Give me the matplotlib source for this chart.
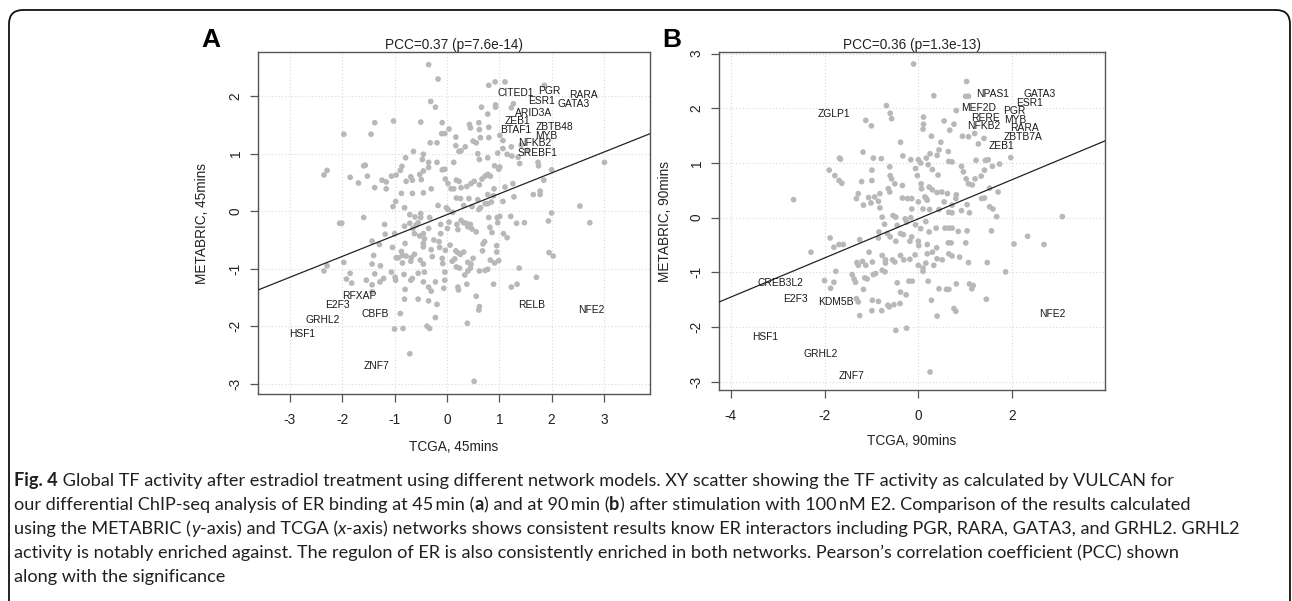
import matplotlib
matplotlib.use("Agg")
import matplotlib.pyplot as plt
from matplotlib.patches import FancyBboxPatch
from matplotlib.transforms import IdentityTransform
from matplotlib import font_manager

plt.rcParams["axes.unicode_minus"] = False

# ---------------- data ----------------
a_x = [-0.35,-0.17,0.80,0.92,1.11,1.86,
 -0.31,-0.22,0.93,0.93,1.27,1.23,0.78,0.66,
 -1.38,-1.02,-0.50,-0.09,-1.97,-1.45,-0.32,-0.19,
 -0.10,-0.04,0.04,0.43,0.45,0.61,0.62,0.80,
 0.50,0.56,0.64,0.80,1.01,1.07,0.17,0.17,
 0.23,0.27,0.35,0.59,0.62,0.78,0.97,1.07,
 1.15,1.24,1.36,1.39,1.54,1.74,1.75,2.00,3.01,
 -0.64,-0.79,-0.45,-0.47,-0.35,-0.35,-0.19,-0.09,-0.04,0.13,
 -0.86,-0.89,-0.97,-1.16,-1.16,-1.24,-1.59,-1.56,-1.52,-1.69,-1.85,
 -2.29,-2.35,-1.38,-1.06,-0.78,-0.69,-0.66,-0.49,-0.45,-0.52,
 -0.30,-0.45,-0.66,-0.87,-0.98,-1.03,-0.81,
 -0.03,0.02,0.08,0.13,0.18,0.23,0.27,0.38,0.18,0.26,
 0.46,0.52,0.62,0.67,0.73,0.78,0.83,0.91,0.99,1.01,
 1.11,1.26,0.78,0.89,1.07,1.28,1.65,1.78,1.78,1.85,
 2.54,2.73,2.00,1.94,
 -0.01,0.02,0.11,0.32,0.48,0.61,0.73,0.78,0.85,0.59,
 0.80,0.96,1.01,0.97,1.22,1.33,1.48,0.82,0.86,1.08,1.15,
 0.72,0.69,0.68,0.95,0.95,0.83,0.91,0.99,1.95,2.03,
 1.38,1.71,1.23,1.34,0.73,0.78,0.62,0.46,0.45,0.40,
 0.38,0.56,0.62,0.61,0.39,0.52,0.21,0.22,0.34,
 0.10,0.15,0.21,0.26,0.32,0.17,0.40,0.50,0.18,0.24,
 0.27,0.32,0.37,0.40,0.45,0.48,0.56,0.19,0.21,0.04,0.01,
 -0.12,-0.12,-0.15,-0.25,-0.30,-0.28,-0.14,0.06,-0.03,-0.09,
 -0.33,-0.35,-0.50,-0.50,-0.55,-0.59,-0.65,-0.62,-0.52,-0.45,-0.43,-0.45,-0.45,
 -0.81,-0.71,-1.19,-1.59,-2.05,-2.01,-1.18,-1.00,-0.80,-1.29,-1.43,
 -1.04,-0.87,-0.85,-0.97,-0.93,-0.78,-0.68,-0.69,-0.62,-0.51,-0.45,-0.85,
 -1.40,-1.43,-1.27,-1.06,-1.21,-1.28,-1.43,-1.54,-1.38,-1.82,-1.85,-1.92,-1.97,
 -2.29,-2.35,-0.99,-0.98,-0.82,-0.66,-0.69,-0.55,-0.43,-0.45,-0.35,-0.30,
 -0.80,-0.81,-0.55,-0.35,-0.19,-0.22,-0.04,-0.04,-0.06,-0.22,-0.08,
 0.89,-0.89,-1.00,-0.84,-0.38,-0.33,-0.71,-1.43,
 -0.17,-0.61,-0.71,0.42,0.64,0.90,1.23,1.42]
a_y = [2.55,2.30,2.19,2.25,2.25,2.19,
 1.91,1.81,1.85,1.81,1.87,1.80,1.69,1.81,
 1.54,1.57,1.55,1.54,1.34,1.34,1.19,1.19,
 1.35,1.35,1.43,1.51,1.45,1.54,1.42,1.46,
 1.22,1.19,1.28,1.28,1.32,1.23,1.29,1.14,
 1.04,1.05,1.12,1.00,0.90,0.93,1.01,1.09,
 0.99,0.96,0.94,0.83,1.06,0.85,0.79,0.72,0.85,
 1.04,0.93,0.99,0.90,0.85,0.76,0.85,0.72,0.73,0.85,
 0.78,0.71,0.63,0.51,0.39,0.54,0.79,0.80,0.61,0.49,0.59,
 0.71,0.63,0.41,0.61,0.52,0.60,0.54,0.55,0.70,0.64,
 0.39,0.32,0.31,0.31,0.17,0.08,0.06,
 0.56,0.48,0.39,0.39,0.54,0.52,0.41,0.43,0.23,0.22,
 0.48,0.52,0.46,0.56,0.61,0.64,0.61,0.79,0.73,0.77,
 0.42,0.48,0.29,0.27,0.17,0.25,0.29,0.35,0.29,0.54,
 0.09,-0.20,-0.03,-0.17,
 0.06,0.03,-0.02,0.10,0.08,0.03,0.13,0.13,0.16,0.20,
 -0.11,-0.11,-0.09,-0.20,-0.09,-0.21,-0.20,-0.28,-0.37,-0.39,-0.46,
 -0.53,-0.57,-0.69,-0.60,-0.71,-0.85,-0.90,-0.86,-0.72,-0.78,
 -0.99,-1.15,-1.32,-1.27,-1.03,-1.01,-1.04,-0.92,-0.99,-1.04,
 -1.27,-1.48,-1.66,-1.72,-1.95,-2.96,-1.32,-1.37,-1.11,
 -0.87,-0.83,-0.72,-0.75,-0.71,-0.69,-0.89,-0.82,-0.97,-0.99,
 -0.16,-0.20,-0.21,-0.27,-0.23,-0.31,-0.36,-0.23,-0.32,-0.19,-0.30,
 -0.23,-0.39,-0.53,-0.50,-0.67,-0.79,-0.63,-0.59,-0.68,-0.82,
 -0.11,-0.30,-0.04,-0.11,-0.20,-0.24,-0.30,-0.39,-0.43,-0.39,-0.48,-0.56,-0.62,
 -0.26,-0.21,-0.23,-0.11,-0.21,-0.21,-0.40,-0.39,-0.56,-0.58,-0.52,
 -0.63,-0.70,-0.77,-0.81,-0.81,-0.78,-0.81,-0.87,-0.75,-0.85,-0.92,-0.90,
 -0.77,-0.92,-0.95,-1.06,-1.17,-1.23,-1.28,-1.20,-1.09,-1.25,-1.08,-1.18,-0.89,
 -0.95,-1.04,-1.15,-1.20,-1.10,-1.17,-1.20,-1.08,-1.06,-1.23,-1.32,-1.39,
 -1.36,-1.53,-1.53,-1.56,-1.62,-1.85,-1.06,-1.20,-1.34,-1.23,-0.91,
 -1.27,-1.78,-2.05,-2.04,-2.00,-2.04,-2.48,-1.40,
 0.10,-0.10,-0.06,0.22,0.06,0.39,1.12,1.15]

b_x = [-0.10,1.03,1.01,1.07,0.33,-0.68,-0.60,-0.57,-1.12,-1.00,
 0.11,0.11,0.10,0.55,0.76,0.67,0.81,0.94,1.07,1.20,1.28,1.40,
 0.28,0.48,0.64,0.44,0.40,0.25,0.21,-0.38,-1.18,-1.68,-1.66,
 -0.96,-0.79,-0.33,-0.16,0.00,0.05,0.17,0.30,0.42,0.65,0.72,
 0.92,0.96,1.02,1.07,1.21,1.15,1.23,1.43,1.49,1.58,1.73,1.97,
 1.41,1.34,1.52,1.70,1.35,1.41,1.52,1.59,1.67,1.56,
 3.07,2.33,2.68,2.04,1.86,1.47,1.45,
 -1.90,-1.78,-1.69,-1.63,-2.66,-1.21,-0.99,-0.99,-0.61,-0.60,-0.57,
 -0.50,-0.64,-0.61,-0.82,-0.93,-0.85,-1.06,-1.01,-1.17,-1.28,-1.32,
 -0.82,-0.77,-0.54,-0.48,-0.34,-0.34,-0.23,-0.14,-0.14,-0.06,-0.02,
 0.06,0.07,0.14,0.17,0.19,0.23,0.30,0.00,0.10,0.24,
 0.40,0.50,0.62,0.81,0.80,0.72,0.55,0.44,0.65,0.72,0.92,1.04,1.09,
 -0.28,-0.25,-0.16,-0.06,0.16,0.05,0.23,0.38,0.57,0.65,0.72,0.85,1.04,
 0.64,0.70,1.01,0.65,0.72,0.51,0.88,1.07,
 -0.72,-0.84,-0.85,-0.66,-0.60,-0.45,-0.38,-0.32,-0.48,-0.14,-0.18,
 0.00,0.01,-0.07,0.19,0.19,0.30,0.39,0.40,0.33,0.16,
 -0.18,-0.31,-0.38,-0.50,-0.55,-0.70,-0.70,-0.77,-0.98,-1.12,-1.19,-1.31,-1.28,
 -1.80,-1.69,-1.60,-1.88,-1.25,-1.05,-2.29,-1.76,-2.00,-1.80,-1.87,
 -1.41,-1.37,-1.34,-1.14,-1.09,-0.96,-0.91,-0.77,-0.71,
 -1.32,-1.28,-1.25,-1.17,-0.98,-0.85,-0.99,-0.78,-0.65,-0.62,-0.52,-0.39,
 -0.45,-0.38,-0.20,-0.13,-0.26,-0.48,-0.25,
 0.10,0.10,0.28,0.40,0.44,0.60,0.65,0.81,0.76,0.80,
 1.09,1.14,1.17,0.25,0.21,0.00]
b_y = [2.81,2.49,2.22,2.22,2.23,2.05,1.91,1.81,1.78,1.68,
 1.84,1.71,1.62,1.77,1.71,1.60,1.96,1.49,1.48,1.54,1.35,1.45,
 1.49,1.38,1.21,1.24,1.14,1.17,0.97,1.38,1.20,1.09,1.07,
 1.09,1.08,1.13,1.06,1.06,1.00,1.09,0.88,0.78,1.03,1.02,
 0.94,0.84,0.71,0.62,0.71,0.60,1.05,1.05,1.06,0.94,0.98,1.10,
 0.87,0.76,0.54,0.47,0.35,0.36,0.20,0.16,0.02,-0.24,
 0.02,-0.34,-0.49,-0.48,-0.99,-0.82,-1.49,
 0.87,0.77,0.68,0.63,0.33,0.66,0.87,0.68,0.93,0.77,0.71,
 0.62,0.53,0.47,0.44,0.38,0.30,0.37,0.27,0.23,0.44,0.35,
 0.18,0.01,0.04,0.01,0.59,0.36,0.35,0.35,0.16,0.90,0.77,
 0.62,0.53,0.38,0.35,0.32,0.56,0.51,0.29,0.16,0.15,
 0.46,0.47,0.44,0.42,0.35,0.23,0.29,0.15,0.10,0.09,0.13,0.24,0.09,
 -0.02,-0.08,0.00,-0.13,-0.07,-0.20,-0.26,-0.19,-0.19,-0.19,-0.19,-0.25,-0.24,
 -0.46,-0.46,-0.46,-0.66,-0.70,-0.77,-0.72,-0.82,
 -0.12,-0.26,-0.37,-0.29,-0.35,-0.14,-0.29,-0.31,-0.43,-0.35,-0.43,
 -0.43,-0.51,-0.68,-0.49,-0.66,-0.63,-0.55,-0.75,-0.87,-0.83,
 -0.76,-0.77,-0.69,-0.81,-0.77,-0.77,-0.83,-0.69,-0.81,-0.87,-0.80,-0.82,-0.87,
 -0.54,-0.49,-0.49,-0.37,-0.40,-0.63,-0.63,-0.98,-1.15,-1.18,-1.29,
 -1.04,-1.12,-1.18,-1.10,-1.12,-1.04,-1.02,-0.96,-0.99,
 -1.48,-1.54,-1.79,-1.31,-1.51,-1.53,-1.70,-1.70,-1.60,-1.63,-1.59,-1.57,
 -1.19,-1.36,-1.16,-1.16,-1.41,-2.06,-2.02,
 -0.92,-0.98,-1.51,-1.80,-1.30,-1.31,-1.31,-1.21,-1.66,-1.71,
 -1.21,-1.30,-1.24,-2.82,-1.16,-0.87]

a_labels = ["CITED1","PGR","RARA","ESR1","GATA3","ARID3A","ZEB1","ZBTB48","BTAF1","MYB",
            "NFKB2","SREBF1","RFXAP","E2F3","CBFB","GRHL2","HSF1","ZNF7","RELB","NFE2"]
a_label_x = [1.31,1.95,2.60,1.80,2.43,1.65,1.34,2.06,1.31,1.89,
             1.68,1.73,-1.67,-2.10,-1.38,-2.37,-2.77,-1.35,1.62,2.76]
a_label_y = [2.06,2.10,2.03,1.92,1.87,1.71,1.57,1.46,1.41,1.31,
             1.18,1.02,-1.47,-1.63,-1.79,-1.90,-2.14,-2.70,-1.63,-1.72]

b_labels = ["NPAS1","GATA3","ESR1","MEF2D","PGR","RERE","MYB","NFKB2","RARA","ZBTB7A","ZEB1",
            "ZGLP1","CREB3L2","E2F3","KDM5B","NFE2","HSF1","GRHL2","ZNF7"]
b_label_x = [1.58,2.59,2.36,1.28,2.04,1.43,2.06,1.40,2.27,2.23,1.78,
             -1.80,-2.95,-2.61,-1.76,2.86,-3.27,-2.08,-1.42]
b_label_y = [2.27,2.27,2.10,2.01,1.96,1.82,1.78,1.68,1.64,1.48,1.31,
             1.90,-1.20,-1.48,-1.54,-1.76,-2.18,-2.50,-2.90]

a_fit = [0.363, -0.06]   # slope, intercept
b_fit = [0.358, -0.02]
a_title = "PCC=0.37 (p=7.6e-14)"
b_title = "PCC=0.36 (p=1.3e-13)"
a_xticks = [-3, -2, -1, 0, 1, 2, 3]
a_yticks = [-3, -2, -1, 0, 1, 2]
b_xticks = [-4, -2, 0, 2]
b_yticks = [-3, -2, -1, 0, 1, 2, 3]

caption_lines = [
    [("Fig. 4", "bold", "normal"),
     (" Global TF activity after estradiol treatment using different network models. XY scatter showing the TF activity as calculated by VULCAN for", "normal", "normal")],
    [("our differential ChIP-seq analysis of ER binding at 45\u2009min (", "normal", "normal"), ("a", "bold", "normal"),
     (") and at 90\u2009min (", "normal", "normal"), ("b", "bold", "normal"),
     (") after stimulation with 100\u2009nM E2. Comparison of the results calculated", "normal", "normal")],
    [("using the METABRIC (", "normal", "normal"), ("y", "normal", "italic"), ("-axis) and TCGA (", "normal", "normal"),
     ("x", "normal", "italic"),
     ("-axis) networks shows consistent results know ER interactors including PGR, RARA, GATA3, and GRHL2. GRHL2", "normal", "normal")],
    [("activity is notably enriched against. The regulon of ER is also consistently enriched in both networks. Pearson\u2019s correlation coefficient (PCC) shown", "normal", "normal")],
    [("along with the significance", "normal", "normal")],
]

# ---------------- figure ----------------
W, H = 1292, 601
fig = plt.figure(figsize=(W / 100, H / 100), dpi=100)
fig.patch.set_facecolor("white")
FONT = ["Liberation Sans", "DejaVu Sans"]
PT = "#b8b8b8"


def px_axes(left, top, width, height):
    return fig.add_axes([left / W, 1 - (top + height) / H, width / W, height / H])


def panel(ax, xs, ys, labels, lx, ly, fit, title, xticks, yticks, xlim, ylim, xlabel, ylabel, letter, letter_xy):
    ax.set_xlim(*xlim)
    ax.set_ylim(*ylim)
    ax.set_xticks(xticks)
    ax.set_yticks(yticks)
    ax.grid(True, color="#d9d9d9", linestyle=(0, (1, 2)), linewidth=0.8)
    ax.set_axisbelow(True)
    ax.scatter(xs, ys, s=17, color=PT, edgecolors="none", zorder=2)
    x0, x1 = xlim
    ax.plot([x0, x1], [fit[0] * x0 + fit[1], fit[0] * x1 + fit[1]], color="#222222", lw=0.9, zorder=3)
    for t, x, y in zip(labels, lx, ly):
        ax.text(x, y, t, ha="center", va="center", fontsize=7.4, family=FONT, color="#1a1a1a", zorder=4)
    for s in ax.spines.values():
        s.set_color("#555555")
        s.set_linewidth(1.0)
    ax.tick_params(direction="out", length=6, width=0.9, color="#555555", labelsize=9.8,
                   labelcolor="#222222")
    ax.tick_params(axis="x", pad=8)
    ax.tick_params(axis="y", pad=5)
    for lab in ax.get_xticklabels() + ax.get_yticklabels():
        lab.set_family(FONT)
    for lab in ax.get_yticklabels():
        lab.set_rotation(90)
        lab.set_va("center")
    ax.set_title(title, fontsize=9.8, family=FONT, color="#222222", pad=2)
    ax.set_xlabel(xlabel, fontsize=9.8, family=FONT, color="#222222")
    ax.set_ylabel(ylabel, fontsize=9.8, family=FONT, color="#222222")
    fig.text(letter_xy[0] / W, 1 - letter_xy[1] / H, letter, fontsize=19, fontweight="bold",
             family=FONT, ha="center", va="center", color="black")


axA = px_axes(258, 52, 392, 342)
panel(axA, a_x, a_y, a_labels, a_label_x, a_label_y, a_fit, a_title, a_xticks, a_yticks,
      (-3.61, 3.88), (-3.18, 2.77), "TCGA, 45mins", "METABRIC, 45mins", "A", (211, 40))
axA.xaxis.set_label_coords(0.5, -0.155)
axA.xaxis.label.set_va("center")
axA.yaxis.set_label_coords(-0.142, 0.5)
axA.yaxis.label.set_va("center")

axB = px_axes(719, 52, 386, 338)
panel(axB, b_x, b_y, b_labels, b_label_x, b_label_y, b_fit, b_title, b_xticks, b_yticks,
      (-4.25, 3.98), (-3.15, 3.03), "TCGA, 90mins", "METABRIC, 90mins", "B", (672, 40))
axB.xaxis.set_label_coords(0.5, -0.151)
axB.xaxis.label.set_va("center")
axB.yaxis.set_label_coords(-0.140, 0.5)
axB.yaxis.label.set_va("center")

# ---------------- caption ----------------
names = {f.name for f in font_manager.fontManager.ttflist}
cap_family = ["Liberation Sans Narrow", "DejaVu Sans"] if "Liberation Sans Narrow" in names else ["Lato", "DejaVu Sans"]
renderer = fig.canvas.get_renderer()

# choose one caption size so that the widest of the first three lines spans ~1222 px
cap_size = 100.0
for segs in caption_lines[:3]:
    wsum = 0.0
    for txt, wt, st in segs:
        p = fig.text(0, 0, txt, fontsize=10, fontweight=wt, fontstyle=st, family=cap_family)
        wsum += p.get_window_extent(renderer).width
        p.remove()
    cap_size = min(cap_size, 10 * 1222 / wsum)

base_y = [486, 510, 534, 558, 582]
for segs, by in zip(caption_lines, base_y):
    x = 14
    for txt, wt, st in segs:
        t = fig.text(x / W, 1 - by / H, txt, fontsize=cap_size, fontweight=wt, fontstyle=st,
                     family=cap_family, ha="left", va="baseline", color="#231f20")
        x += t.get_window_extent(renderer).width

# outer rounded frame
frame = FancyBboxPatch((9, -30), 1281, H - 10 + 30, boxstyle="round,pad=0,rounding_size=14",
                       transform=IdentityTransform(), fill=False, edgecolor="#111111", lw=1.3)
fig.add_artist(frame)

fig.savefig("out.png", dpi=100)
